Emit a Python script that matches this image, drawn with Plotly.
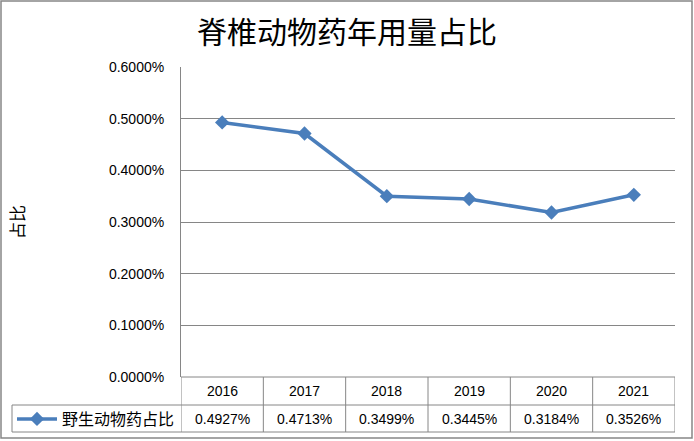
import plotly.graph_objects as go

years = ["2016", "2017", "2018", "2019", "2020", "2021"]
share = [0.004927, 0.004713, 0.003499, 0.003445, 0.003184, 0.003526]
series_name = "野生动物药占比"
title_text = "脊椎动物药年用量占比"
y_title = "占比"
y_ticks = [0.0, 0.001, 0.002, 0.003, 0.004, 0.005, 0.006]

W, H = 694, 441
def px(x):
    return x / W
def py(y):
    return 1 - y / H

blue = "#4A7EBB"
grey = "#868686"
font_lat = "Liberation Sans, Noto Sans CJK SC"
font_cjk = "Noto Sans CJK SC"

xs = list(range(len(years)))

fig = go.Figure()
fig.add_trace(go.Scatter(
    x=xs, y=share, mode="lines+markers", name=series_name,
    line=dict(color=blue, width=3.5),
    marker=dict(symbol="diamond", size=11, color=blue),
))

top_plot, bot_plot = 67, 377
row1_bot, row2_bot = 405, 432

shapes = []
# outer border
shapes.append(dict(type="rect", xref="paper", yref="paper", x0=px(1), x1=px(692), y0=py(438), y1=py(1),
                   line=dict(color=grey, width=1.5)))
# table horizontal lines
for yy in [bot_plot, row1_bot, row2_bot]:
    shapes.append(dict(type="line", xref="paper", yref="paper",
                       x0=px(12) if yy != bot_plot else px(181), x1=px(675), y0=py(yy), y1=py(yy),
                       line=dict(color=grey, width=1)))
# table vertical lines (column borders)
for i in range(len(years) + 1):
    shapes.append(dict(type="line", xref="x", yref="paper", x0=i - 0.5, x1=i - 0.5,
                       y0=py(row2_bot), y1=py(bot_plot), line=dict(color=grey, width=1)))
# legend cell left border
shapes.append(dict(type="line", xref="paper", yref="paper", x0=px(12), x1=px(12),
                   y0=py(row2_bot), y1=py(row1_bot), line=dict(color=grey, width=1)))

annotations = []
annotations.append(dict(text=title_text, xref="paper", yref="paper", x=px(347), y=py(30),
                        showarrow=False, font=dict(family=font_cjk, size=30, color="black"),
                        xanchor="center", yanchor="middle"))
annotations.append(dict(text=y_title, xref="paper", yref="paper", x=px(16), y=py(222),
                        showarrow=False, textangle=-90, font=dict(family=font_cjk, size=17, color="black"),
                        xanchor="center", yanchor="middle"))
for i, (yr, v) in enumerate(zip(years, share)):
    annotations.append(dict(text=yr, xref="x", yref="paper", x=i, y=py((bot_plot + row1_bot) / 2),
                            showarrow=False, font=dict(family=font_lat, size=14, color="black"),
                            xanchor="center", yanchor="middle"))
    annotations.append(dict(text=f"{v*100:.4f}%", xref="x", yref="paper", x=i, y=py((row1_bot + row2_bot) / 2),
                            showarrow=False, font=dict(family=font_lat, size=14, color="black"),
                            xanchor="center", yanchor="middle"))

fig.update_layout(
    width=W, height=H,
    margin=dict(l=0, r=0, t=0, b=0, autoexpand=False),
    paper_bgcolor="white", plot_bgcolor="white",
    showlegend=True,
    legend=dict(x=px(12), y=py(419), xanchor="left", yanchor="middle",
                font=dict(family=font_cjk, size=16, color="black"),
                bgcolor="rgba(0,0,0,0)", itemwidth=40),
    xaxis=dict(domain=[px(181), px(675)], range=[-0.5, len(years) - 0.5], automargin=False,
               showgrid=False, showticklabels=False, zeroline=False, showline=False, ticks=""),
    yaxis=dict(domain=[py(bot_plot), py(top_plot)], range=[0, 0.006], automargin=False,
               tickvals=y_ticks, tickformat=".4%", showgrid=True, gridcolor=grey, gridwidth=1,
               zeroline=False, showline=True, linecolor=grey, linewidth=1, ticks="",
               ticklabelstandoff=13,
               tickfont=dict(family=font_lat, size=14, color="black")),
    shapes=shapes, annotations=annotations,
)

fig.write_html("out.html", config={"displayModeBar": False},
               post_script="document.body.style.margin='0px';document.body.style.overflow='hidden';")
